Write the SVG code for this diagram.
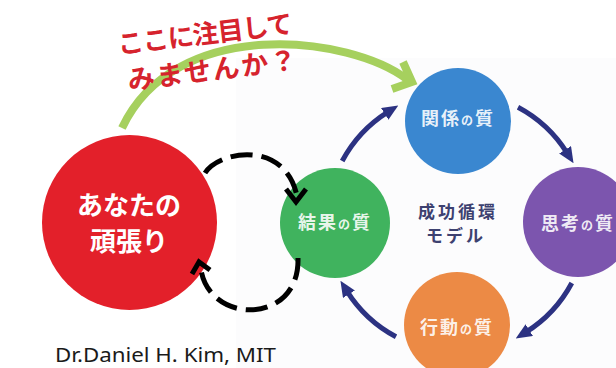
<svg xmlns="http://www.w3.org/2000/svg" width="616" height="368" viewBox="0 0 616 368">
<style>
.ct{font-family:"Noto Sans CJK JP","Noto Sans CJK SC",sans-serif;font-weight:bold;font-size:18px;fill:#ffffff;fill-opacity:0.9;text-anchor:middle;letter-spacing:2px}
.no{font-size:12px}
.mid{font-family:"Noto Sans CJK JP",sans-serif;font-weight:bold;font-size:17px;fill:#3d4170;text-anchor:middle;letter-spacing:3px}
.nav{fill:none;stroke:#2c3282;stroke-width:5;marker-end:url(#navHead)}
.dash{fill:none;stroke:#000;stroke-width:5;stroke-dasharray:22 9}
.chev{fill:none;stroke:#000;stroke-width:5;stroke-linejoin:miter}
.red{font-family:"Noto Sans CJK JP",sans-serif;font-weight:bold;fill:#d6232d}
.wt{font-family:"Noto Sans CJK JP",sans-serif;font-weight:bold;font-size:26px;fill:#fff;text-anchor:middle}
</style>
<defs>
<marker id="navHead" markerUnits="userSpaceOnUse" markerWidth="16" markerHeight="14" refX="4" refY="7" orient="auto">
<path d="M0,0 L16,7 L0,14 z" fill="#2c3282"/>
</marker>
</defs>
<rect x="0" y="0" width="616" height="368" fill="#ffffff"/>
<rect x="236" y="58" width="380" height="310" fill="#fcfcfd"/>

<g id="node-kankei"><circle cx="458" cy="121" r="53" fill="#3a87d0"/><text class="ct" x="458" y="125">関係<tspan class="no">の</tspan>質</text></g>
<g id="node-shikou"><circle cx="578" cy="222" r="55" fill="#7c55ae"/><text class="ct" x="578" y="230">思考<tspan class="no">の</tspan>質</text></g>
<g id="node-koudou"><circle cx="457" cy="325" r="53" fill="#ec8a45"/><text class="ct" x="457" y="334">行動<tspan class="no">の</tspan>質</text></g>
<g id="node-kekka"><circle cx="335" cy="223" r="55" fill="#40b35e"/><text class="ct" x="335" y="229">結果<tspan class="no">の</tspan>質</text></g>
<g id="center-label"><text class="mid" x="458" y="218">成功循環</text><text class="mid" x="456" y="242">モデル</text></g>

<g id="node-you"><circle cx="129.5" cy="222.5" r="87.5" fill="#e3202a"/><text class="wt" x="129" y="215">あなたの</text><text class="wt" x="129" y="251">頑張り</text></g>

<g id="connectors">
<path class="nav" d="M342.2,161 A130,130 0 0 1 388.1,111.8"/>
<path class="nav" d="M518,107.2 A130,130 0 0 1 567.2,153.1"/>
<path class="nav" d="M571.8,283 A130,130 0 0 1 525.9,332.2"/>
<path class="nav" d="M396,336.8 A130,130 0 0 1 346.8,290.9"/>
<path d="M122,128 C175,15 350,35 408,80" fill="none" stroke="#a6d05e" stroke-width="8"/>
<polyline points="392,89 412,82 403,62" fill="none" stroke="#a6d05e" stroke-width="8" stroke-linejoin="miter"/>
<path class="dash" d="M205,173 C220,150 285,140 297,196"/>
<polyline class="chev" points="286,189 296,202 306,189"/>
<path class="dash" d="M298,258 C300,325 210,325 201,270"/>
<polyline class="chev" points="192,274 199,262 210,270"/>
</g>

<g id="callout">
<text class="red" font-size="26" x="119" y="54" textLength="176" transform="rotate(-7 119 54)">ここに注目して</text>
<text class="red" font-size="27" x="129" y="90" textLength="170" transform="rotate(-7 129 90)">みませんか？</text>
</g>
<text x="55" y="362" font-family="Noto Sans, Liberation Sans, sans-serif" font-size="20" fill="#1a1a1a" textLength="221" lengthAdjust="spacingAndGlyphs">Dr.Daniel H. Kim, MIT</text>
</svg>
